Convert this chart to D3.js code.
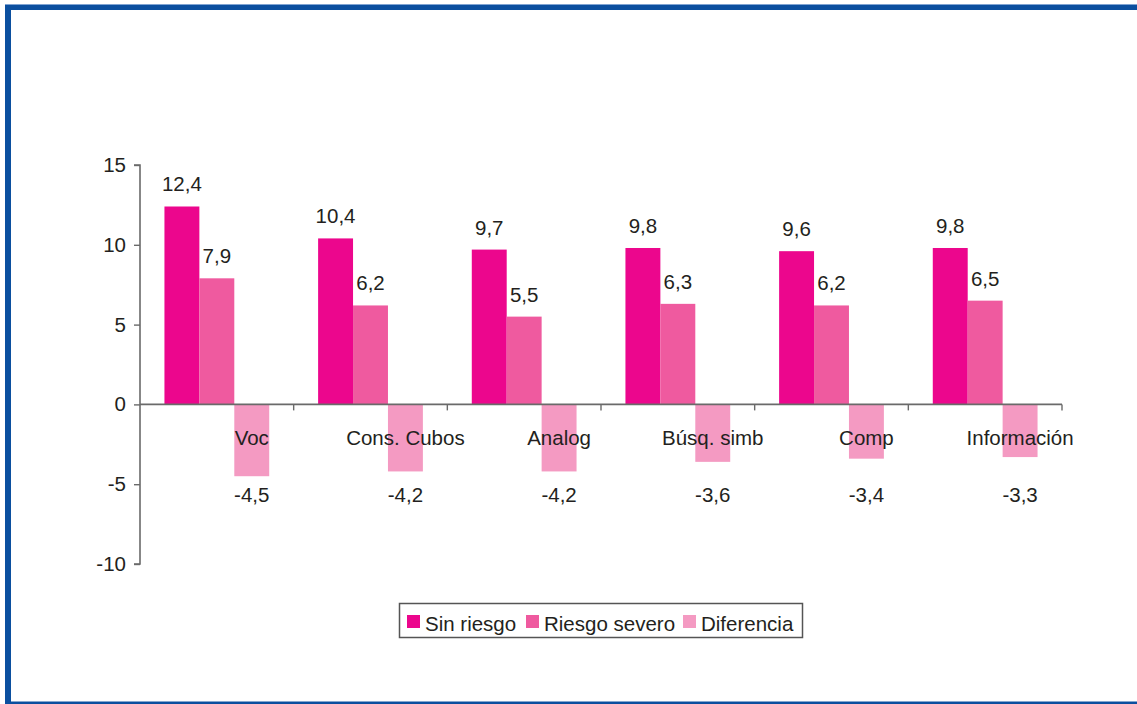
<!DOCTYPE html>
<html>
<head>
<meta charset="utf-8">
<script src="https://cdn.jsdelivr.net/npm/d3@7/dist/d3.min.js"></script>
<style>
  html, body { margin: 0; padding: 0; background: #fff; }
  svg { display: block; }
  text { font-family: "Liberation Sans", Arial, sans-serif; fill: #231f20; }
</style>
</head>
<body>
<svg id="chart" width="1137" height="704"></svg>
<script>
// Subtest scores by risk group
const categories = ["Voc", "Cons. Cubos", "Analog", "Búsq. simb", "Comp", "Información"];
const series = ["Sin riesgo", "Riesgo severo", "Diferencia"];
const sinRiesgo = [12.4, 10.4, 9.7, 9.8, 9.6, 9.8];
const riesgoSevero = [7.9, 6.2, 5.5, 6.3, 6.2, 6.5];
const diferencia = [-4.5, -4.2, -4.2, -3.6, -3.4, -3.3];
const yTicks = [15, 10, 5, 0, -5, -10];

const colors = ["#ec068d", "#ef5a9f", "#f49ac2"];
const values = [sinRiesgo, riesgoSevero, diferencia];
const fmt = v => String(v).replace(".", ",");
const fontSize = "20.5px";

const svg = d3.select("#chart");

// blue frame
svg.append("rect")
  .attr("x", 8).attr("y", 7)
  .attr("width", 1300).attr("height", 697.5)
  .attr("fill", "none")
  .attr("stroke", "#0b4f9f")
  .attr("stroke-width", 6);
svg.append("line")
  .attr("x1", 5).attr("x2", 1137).attr("y1", 4.5).attr("y2", 4.5)
  .attr("stroke", "#7fa3d2").attr("stroke-width", 1);

const x0 = d3.scaleBand().domain(categories).range([140, 1062]).paddingInner(0).paddingOuter(0);
const x1 = d3.scaleBand().domain(series).range([0, x0.bandwidth()]).paddingInner(0).paddingOuter(0.7);
const y = d3.scaleLinear().domain([-10, 15]).range([564, 165]);

const axisColor = "#6a6a6a";

// bars
series.forEach((s, si) => {
  const g = svg.append("g");
  g.selectAll("rect")
    .data(categories.map((c, i) => ({ c, v: values[si][i] })))
    .join("rect")
    .attr("x", d => x0(d.c) + x1(s))
    .attr("width", x1.bandwidth())
    .attr("y", d => y(Math.max(0, d.v)))
    .attr("height", d => Math.abs(y(d.v) - y(0)))
    .attr("fill", colors[si]);
});

// y axis
const yAxis = svg.append("g")
  .attr("transform", "translate(140,0)")
  .call(d3.axisLeft(y).tickValues(yTicks).tickSize(6).tickPadding(8).tickFormat(d => d));
yAxis.select(".domain").attr("stroke", axisColor).attr("stroke-width", 1.6)
  .attr("d", `M-6,${y(15)}H0V${y(-10)}H-6`);
yAxis.selectAll(".tick line").attr("stroke", axisColor).attr("stroke-width", 1.4);
yAxis.selectAll(".tick text").style("font-size", fontSize).attr("fill", "#231f20")
  .style("font-family", "Liberation Sans, Arial, sans-serif");

// x axis at zero with category boundary ticks
const xg = svg.append("g");
xg.append("line")
  .attr("x1", 140).attr("x2", 1062)
  .attr("y1", y(0)).attr("y2", y(0))
  .attr("stroke", axisColor).attr("stroke-width", 1.6);
const bounds = categories.map(c => x0(c) + x0.bandwidth());
xg.selectAll("line.tk")
  .data(bounds)
  .join("line")
  .attr("class", "tk")
  .attr("x1", d => d).attr("x2", d => d)
  .attr("y1", y(0)).attr("y2", y(0) + 6)
  .attr("stroke", axisColor).attr("stroke-width", 1.4);

// category labels
svg.append("g").selectAll("text")
  .data(categories)
  .join("text")
  .attr("x", c => x0(c) + x1("Diferencia") + x1.bandwidth() / 2)
  .attr("y", y(0) + 41)
  .attr("text-anchor", "middle")
  .style("font-size", fontSize)
  .text(c => c);

// value labels
series.forEach((s, si) => {
  const lowest = d3.min(values[si]);
  svg.append("g").selectAll("text")
    .data(categories.map((c, i) => ({ c, v: values[si][i] })))
    .join("text")
    .attr("x", d => x0(d.c) + x1(s) + x1.bandwidth() / 2)
    .attr("y", d => d.v >= 0 ? y(d.v) - 15 : y(lowest) + 26)
    .attr("text-anchor", "middle")
    .style("font-size", fontSize)
    .text(d => fmt(d.v));
});

// legend
const legend = svg.append("g");
legend.append("rect")
  .attr("x", 399.5).attr("y", 603.5)
  .attr("width", 403).attr("height", 34)
  .attr("fill", "#fff").attr("stroke", "#555").attr("stroke-width", 1.5);
const legendX = [407, 526, 683];
series.forEach((s, si) => {
  legend.append("rect")
    .attr("x", legendX[si]).attr("y", 615)
    .attr("width", 13).attr("height", 13)
    .attr("fill", colors[si]);
  legend.append("text")
    .attr("x", legendX[si] + 18).attr("y", 631)
    .style("font-size", fontSize)
    .text(s);
});
</script>
</body>
</html>
